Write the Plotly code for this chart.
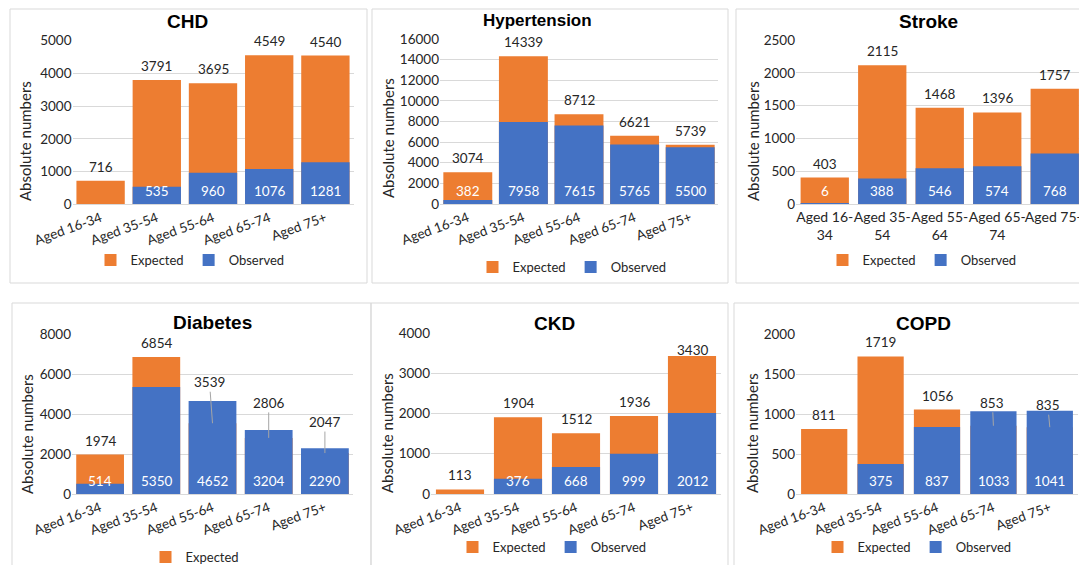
import plotly.graph_objects as go

# ---------------- data ----------------
categories = ["Aged 16-34", "Aged 35-54", "Aged 55-64", "Aged 65-74", "Aged 75+"]

chd_expected = [716, 3791, 3695, 4549, 4540]
chd_observed = [None, 535, 960, 1076, 1281]

hyp_expected = [3074, 14339, 8712, 6621, 5739]
hyp_observed = [382, 7958, 7615, 5765, 5500]

stroke_expected = [403, 2115, 1468, 1396, 1757]
stroke_observed = [6, 388, 546, 574, 768]

diab_expected = [1974, 6854, 3539, 2806, 2047]
diab_observed = [514, 5350, 4652, 3204, 2290]

ckd_expected = [113, 1904, 1512, 1936, 3430]
ckd_observed = [None, 376, 668, 999, 2012]

copd_expected = [811, 1719, 1056, 853, 835]
copd_observed = [None, 375, 837, 1033, 1041]

panel_titles = ["CHD", "Hypertension", "Stroke", "Diabetes", "CKD", "COPD"]
y_max = [5000, 16000, 2500, 8000, 4000, 2000]
y_step = [1000, 2000, 500, 2000, 1000, 500]

expected_sets = [chd_expected, hyp_expected, stroke_expected,
                 diab_expected, ckd_expected, copd_expected]
observed_sets = [chd_observed, hyp_observed, stroke_observed,
                 diab_observed, ckd_observed, copd_observed]

# ---------------- styling / layout (pixels) ----------------
W, H = 1079, 565
ORANGE = "#ED7D31"
BLUE = "#4472C4"
GRID = "#D9D9D9"
TXT = "#262626"
FONT = "Lato"

# plot areas: x0, x1, y_top, y_bottom (px)
areas = [
    (72.5, 353.5, 40.5, 204.3),
    (440, 718, 39, 204),
    (796, 1083.5, 40, 204),
    (72, 353, 334, 494),
    (431, 721, 333, 494),
    (796, 1078, 334, 494),
]
# panel frames
frames = [
    (10, 367, 9, 283),
    (372, 728, 9, 283),
    (736, 1090, 9, 283),
    (12, 371, 303, 580),
    (371, 728, 303, 580),
    (734, 1090, 303, 580),
]
title_pos = [(187, 22, 19), (537, 20, 17), (928, 22, 19),
             (212, 322, 19), (554, 323, 19), (923, 323, 19)]
ytitle_pos = [(25, 141), (388, 138), (753, 141),
              (27, 434), (387, 433), (752, 433)]
legend_pos = [(190, 260), (572, 267), (922, 260),
              (195, 557), (552, 547), (917, 547)]
bar_width = [0.86, 0.88, 0.84, 0.85, 0.83, 0.82]
# leader-line label offsets (px) for expected labels hidden behind observed bars
leader = {(3, 2): (-3, -41), (3, 3): (0, -35), (3, 4): (0, -31),
          (5, 3): (-1, -23), (5, 4): (-2, -22)}
# label shift overrides (px) where the label was pulled inside the plot area
label_shift = {(4, 4): 6}

fig = go.Figure()
annotations = []
shapes = []
layout_axes = {}

for i in range(6):
    n = i + 1
    xa = "x" if n == 1 else f"x{n}"
    ya = "y" if n == 1 else f"y{n}"
    lg = "legend" if n == 1 else f"legend{n}"
    x0, x1, yt, yb = areas[i]
    exp = expected_sets[i]
    obs = observed_sets[i]

    fig.add_trace(go.Bar(x=categories, y=exp, name="Expected", marker_color=ORANGE,
                         marker_line_width=0, width=bar_width[i], xaxis=xa, yaxis=ya,
                         legend=lg, hoverinfo="skip"))
    fig.add_trace(go.Bar(x=categories, y=obs, name="Observed", marker_color=BLUE,
                         marker_line_width=0, width=bar_width[i], xaxis=xa, yaxis=ya,
                         legend=lg, hoverinfo="skip", showlegend=(i != 3)))

    # x axis range (stroke panel is cut at the right edge of the image)
    px_per_cat = (x1 - x0) / len(categories)
    x1c = min(x1, W)
    xr = [-0.5, -0.5 + (x1c - x0) / px_per_cat]

    xkey = "xaxis" if n == 1 else f"xaxis{n}"
    ykey = "yaxis" if n == 1 else f"yaxis{n}"
    if i == 2:
        ticktext = [c.replace("-", "-<br>", 1) for c in categories]
        tickangle = 0
        tsize = 14
    else:
        ticktext = categories
        tickangle = -20
        tsize = 13.5
    layout_axes[xkey] = dict(
        domain=[x0 / W, x1c / W], anchor=ya, range=xr, type="category",
        tickmode="array", tickvals=categories, ticktext=ticktext,
        tickangle=tickangle, tickfont=dict(family=FONT, size=tsize, color=TXT),
        showline=True, linecolor=GRID, linewidth=1, showgrid=False, ticks="",
        fixedrange=True, automargin=False,
    )
    layout_axes[ykey] = dict(
        domain=[1 - yb / H, 1 - yt / H], anchor=xa, range=[0, y_max[i]],
        tickmode="linear", tick0=0, dtick=y_step[i], tickformat="d",
        tickfont=dict(family=FONT, size=13.5, color=TXT),
        showgrid=True, gridcolor=GRID, gridwidth=1, zeroline=False,
        showline=False, ticks="", fixedrange=True, automargin=False,
    )

    # legend
    lx, ly = legend_pos[i]
    layout_axes[lg] = dict(
        orientation="h", x=lx / W, y=1 - ly / H, xanchor="center", yanchor="middle",
        font=dict(family=FONT, size=13, color=TXT), bgcolor="rgba(0,0,0,0)",
        itemwidth=30, traceorder="normal",
    )

    # expected labels
    for j, (c, e) in enumerate(zip(categories, exp)):
        if e is None:
            continue
        if (i, j) in leader:
            ax, ay = leader[(i, j)]
            annotations.append(dict(
                x=c, y=e, xref=xa, yref=ya, text=str(e), showarrow=True,
                arrowhead=0, arrowwidth=1, arrowcolor="#A6A6A6", ax=ax, ay=ay,
                standoff=0, font=dict(family=FONT, size=13.5, color=TXT)))
        else:
            annotations.append(dict(
                x=c, y=e, xref=xa, yref=ya, text=str(e), showarrow=False,
                yanchor="middle", yshift=label_shift.get((i, j), 14),
                font=dict(family=FONT, size=13.5, color=TXT)))
    # observed labels (inside base)
    for j, (c, o) in enumerate(zip(categories, obs)):
        if o is None:
            continue
        annotations.append(dict(
            x=c, y=0, xref=xa, yref=ya, text=str(o), showarrow=False,
            yanchor="middle", yshift=13,
            font=dict(family=FONT, size=13.5, color="white")))

    # panel title
    tx, ty, ts = title_pos[i]
    annotations.append(dict(
        x=tx / W, y=1 - ty / H, xref="paper", yref="paper",
        text=f"<b>{panel_titles[i]}</b>", showarrow=False,
        xanchor="center", yanchor="middle",
        font=dict(family="Liberation Sans", size=ts, color="#000000")))
    # y axis title
    ax_, ay_ = ytitle_pos[i]
    annotations.append(dict(
        x=ax_ / W, y=1 - ay_ / H, xref="paper", yref="paper",
        text="Absolute numbers", showarrow=False, textangle=-90,
        xanchor="center", yanchor="middle",
        font=dict(family=FONT, size=15, color=TXT)))

    # frame
    fx0, fx1, fy0, fy1 = frames[i]
    shapes.append(dict(type="rect", xref="paper", yref="paper",
                       x0=fx0 / W, x1=fx1 / W, y0=1 - fy1 / H, y1=1 - fy0 / H,
                       line=dict(color=GRID, width=1), layer="below"))

fig.update_layout(
    width=W, height=H, margin=dict(l=0, r=0, t=0, b=0, autoexpand=False),
    paper_bgcolor="white", plot_bgcolor="white",
    barmode="overlay", annotations=annotations, shapes=shapes,
    **layout_axes,
)

fig.write_html("out.html", config={"displayModeBar": False})
